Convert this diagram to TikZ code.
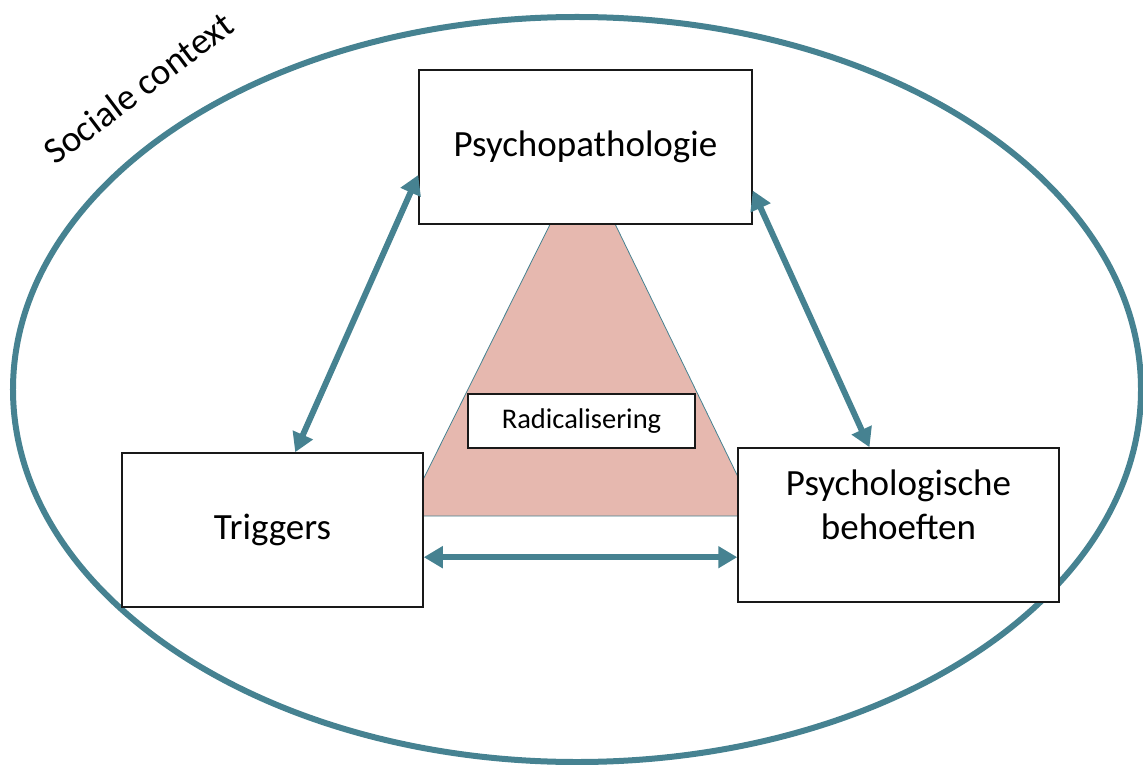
\documentclass[tikz,border=0pt]{standalone}
\usepackage{fontspec}
\setmainfont{Carlito}
\usetikzlibrary{arrows.meta,calc}
\definecolor{tealline}{RGB}{70,130,145}
\definecolor{pinkfill}{RGB}{230,184,175}
\begin{document}
\begin{tikzpicture}[x=1bp,y=-1bp,
  box/.style={draw=black!90, line width=1.5bp, fill=white, rectangle, inner sep=0pt, align=center},
  big/.style={font=\fontsize{37bp}{44bp}\selectfont},
  small/.style={font=\fontsize{28.5bp}{34bp}\selectfont},
  dbl/.style={draw=tealline, line width=6bp, {Triangle[width=21bp,length=19bp]}-{Triangle[width=21bp,length=19bp]}},
  ctx/.style={draw=tealline, line width=6bp}]
\useasboundingbox (0,0) rectangle (1143,765);
% social context ellipse
\draw[ctx] (577,389.5) ellipse [x radius=564bp, y radius=372.5bp];
\node[big, rotate=37, anchor=base] (ctxlabel) at (146,98) {Sociale context};
% triangle
\filldraw[fill=pinkfill, draw=tealline, line width=0.8bp] (583,158) -- (405,516) -- (757,516) -- cycle;
% boxes
\node[box, big, minimum width=333bp, minimum height=154bp] (psy) at (585.5,147) {Psychopathologie};
\node[box, big, minimum width=301bp, minimum height=154bp] (trig) at (272.5,530) {Triggers};
\node[box, minimum width=321bp, minimum height=154bp] (pb) at (898.5,525) {};
\node[big, align=center] (pbt) at ([yshift=20bp]pb.center) {Psychologische\\behoeften};
\node[box, small, minimum width=227bp, minimum height=54bp] (rad) at (581.5,421) {Radicalisering};
% arrows
\draw[dbl] ($(trig.north west)!0.575!(trig.north east)$) -- ($(psy.north west)!0.68!(psy.south west)$);
\draw[dbl] ($(psy.north east)!0.78!(psy.south east)$) -- ($(pb.north west)!0.41!(pb.north east)$);
\coordinate (bl) at ($(trig.north east)!0.675!(trig.south east)$);
\draw[dbl] (bl) -- (bl -| pb.west);
\end{tikzpicture}
\end{document}
